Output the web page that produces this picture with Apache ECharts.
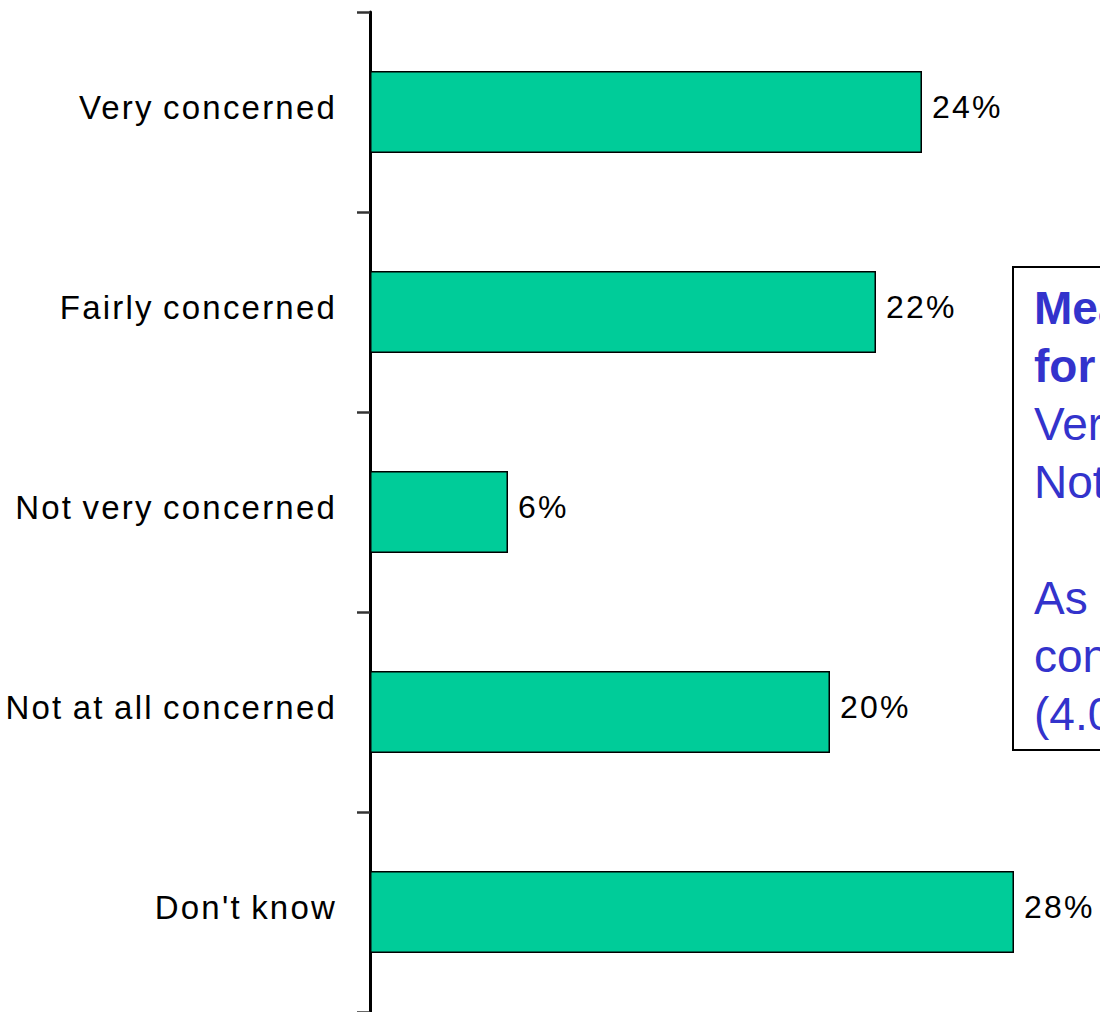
<!DOCTYPE html>
<html>
<head>
<meta charset="utf-8">
<style>
  html, body { margin: 0; padding: 0; background: #fff; }
  #chart { width: 1100px; height: 1012px; }
  /* tracked-out lettering for the axis and value labels */
  #chart svg text { letter-spacing: 2.2px; word-spacing: -2px; }
  #chart svg text[style*="46px"] { letter-spacing: 0; word-spacing: 0; }
</style>
<script src="https://cdn.jsdelivr.net/npm/echarts@6/dist/echarts.min.js"></script>
</head>
<body>
<div id="chart"></div>
<script>
// Level of concern, share of respondents (%)
const categories = ['Very concerned', 'Fairly concerned', 'Not very concerned', 'Not at all concerned', "Don't know"];
const shares = [24, 22, 6, 20, 28];

// Side note text, one entry per line (bold heading lines first)
const noteHeading = ['Mean score', 'for concern'];
const noteBody = ['Very = 4,', 'Not at all = 1', '', 'As a whole,', 'concerned', '(4.0 ...)'];

const chart = echarts.init(document.getElementById('chart'), null, { renderer: 'svg' });
const FONT = '"Liberation Sans", Arial, sans-serif';

const noteLines = noteHeading.map(t => ({ t, bold: true })).concat(noteBody.map(t => ({ t, bold: false })));
const noteGraphics = [{
  type: 'rect',
  shape: { x: 1013, y: 267, width: 400, height: 483 },
  style: { fill: '#fff', stroke: '#000', lineWidth: 2 },
  z: 10
}].concat(noteLines.map((ln, i) => ({
  type: 'text',
  x: 1034,
  y: 308 + i * 58,
  z: 11,
  style: {
    text: ln.t,
    fill: '#3333CC',
    font: (ln.bold ? 'bold ' : '') + '46px ' + FONT,
    verticalAlign: 'middle'
  }
})));

chart.setOption({
  animation: false,
  backgroundColor: '#fff',
  grid: { left: 370, top: 12, height: 1002, width: 690, containLabel: false },
  xAxis: {
    type: 'value',
    min: 0,
    max: 30,
    show: false
  },
  yAxis: {
    type: 'category',
    data: categories,
    inverse: true,
    axisLine: { show: true, lineStyle: { color: '#000', width: 3 } },
    axisTick: { show: true, length: 13, alignWithLabel: false, lineStyle: { color: '#333', width: 2.5 } },
    axisLabel: {
      color: '#000', fontSize: 33, fontFamily: FONT, margin: 33,
      verticalAlign: 'bottom', lineHeight: 10
    },
    splitLine: { show: false }
  },
  series: [{
    type: 'bar',
    data: shares,
    barWidth: 82,
    itemStyle: { color: '#00CC99', borderColor: '#000', borderWidth: 1.5 },
    label: {
      show: true,
      position: 'right',
      distance: 10,
      offset: [0, -5],
      formatter: p => p.value + '%',
      color: '#000',
      fontSize: 32,
      fontFamily: FONT
    }
  }],
  graphic: noteGraphics
});
</script>
</body>
</html>
